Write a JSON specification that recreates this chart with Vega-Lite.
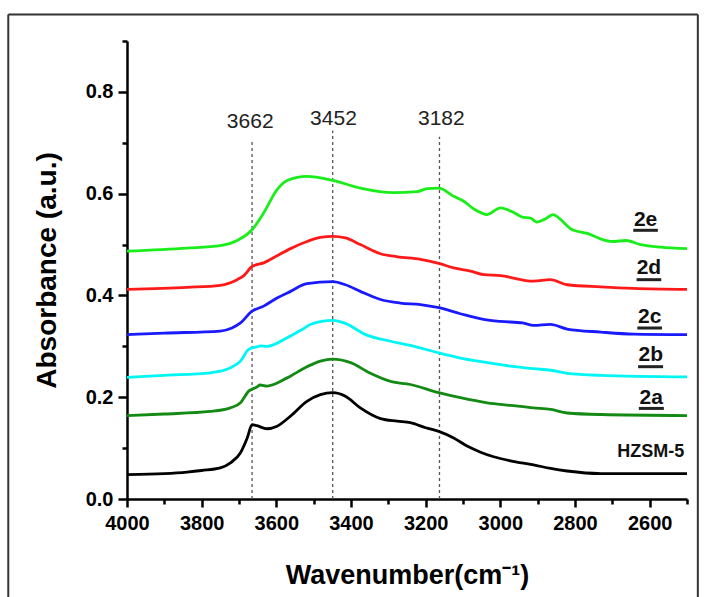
{
  "$schema": "https://vega.github.io/schema/vega-lite/v6.json",
  "width": 560,
  "height": 458,
  "autosize": {"type": "none"},
  "padding": {"left": 127, "top": 41, "right": 21, "bottom": 98},
  "background": "white",
  "config": {
    "view": {"stroke": null},
    "font": "Liberation Sans",
    "axis": {
      "domainColor": "#000", "domainWidth": 2.5, "tickColor": "#000", "tickWidth": 2.5,
      "labelFont": "Liberation Sans", "labelFontWeight": "bold", "labelFontSize": 20, "labelColor": "#000",
      "titleFont": "Liberation Sans", "titleFontWeight": "bold", "titleColor": "#000", "grid": false, "labelFlush": false
    }
  },
  "datasets": {
    "spectra": [
      {"sample":"HZSM-5","wn":4000,"A":0.048},{"sample":"HZSM-5","wn":3900,"A":0.050},{"sample":"HZSM-5","wn":3839,"A":0.053},{"sample":"HZSM-5","wn":3800,"A":0.056},{"sample":"HZSM-5","wn":3750,"A":0.061},{"sample":"HZSM-5","wn":3723,"A":0.071},{"sample":"HZSM-5","wn":3696,"A":0.091},{"sample":"HZSM-5","wn":3678,"A":0.120},{"sample":"HZSM-5","wn":3665,"A":0.146},{"sample":"HZSM-5","wn":3652,"A":0.144},{"sample":"HZSM-5","wn":3625,"A":0.138},{"sample":"HZSM-5","wn":3598,"A":0.143},{"sample":"HZSM-5","wn":3562,"A":0.163},{"sample":"HZSM-5","wn":3518,"A":0.192},{"sample":"HZSM-5","wn":3482,"A":0.205},{"sample":"HZSM-5","wn":3449,"A":0.209},{"sample":"HZSM-5","wn":3415,"A":0.202},{"sample":"HZSM-5","wn":3375,"A":0.179},{"sample":"HZSM-5","wn":3321,"A":0.158},{"sample":"HZSM-5","wn":3276,"A":0.153},{"sample":"HZSM-5","wn":3241,"A":0.150},{"sample":"HZSM-5","wn":3200,"A":0.140},{"sample":"HZSM-5","wn":3165,"A":0.133},{"sample":"HZSM-5","wn":3125,"A":0.120},{"sample":"HZSM-5","wn":3089,"A":0.104},{"sample":"HZSM-5","wn":3053,"A":0.092},{"sample":"HZSM-5","wn":3018,"A":0.083},{"sample":"HZSM-5","wn":2973,"A":0.075},{"sample":"HZSM-5","wn":2911,"A":0.067},{"sample":"HZSM-5","wn":2865,"A":0.060},{"sample":"HZSM-5","wn":2821,"A":0.055},{"sample":"HZSM-5","wn":2731,"A":0.050},{"sample":"HZSM-5","wn":2643,"A":0.050},{"sample":"HZSM-5","wn":2500,"A":0.050},
      {"sample":"2a","wn":4000,"A":0.164},{"sample":"2a","wn":3900,"A":0.167},{"sample":"2a","wn":3777,"A":0.172},{"sample":"2a","wn":3723,"A":0.179},{"sample":"2a","wn":3696,"A":0.189},{"sample":"2a","wn":3674,"A":0.212},{"sample":"2a","wn":3652,"A":0.220},{"sample":"2a","wn":3643,"A":0.224},{"sample":"2a","wn":3625,"A":0.222},{"sample":"2a","wn":3571,"A":0.238},{"sample":"2a","wn":3518,"A":0.260},{"sample":"2a","wn":3482,"A":0.271},{"sample":"2a","wn":3449,"A":0.275},{"sample":"2a","wn":3401,"A":0.268},{"sample":"2a","wn":3348,"A":0.247},{"sample":"2a","wn":3294,"A":0.231},{"sample":"2a","wn":3241,"A":0.225},{"sample":"2a","wn":3165,"A":0.209},{"sample":"2a","wn":3107,"A":0.199},{"sample":"2a","wn":3035,"A":0.189},{"sample":"2a","wn":2973,"A":0.184},{"sample":"2a","wn":2911,"A":0.179},{"sample":"2a","wn":2865,"A":0.176},{"sample":"2a","wn":2821,"A":0.169},{"sample":"2a","wn":2731,"A":0.166},{"sample":"2a","wn":2500,"A":0.164},
      {"sample":"2b","wn":4000,"A":0.239},{"sample":"2b","wn":3900,"A":0.243},{"sample":"2b","wn":3777,"A":0.248},{"sample":"2b","wn":3723,"A":0.258},{"sample":"2b","wn":3696,"A":0.271},{"sample":"2b","wn":3674,"A":0.294},{"sample":"2b","wn":3652,"A":0.299},{"sample":"2b","wn":3643,"A":0.301},{"sample":"2b","wn":3625,"A":0.300},{"sample":"2b","wn":3571,"A":0.317},{"sample":"2b","wn":3531,"A":0.333},{"sample":"2b","wn":3509,"A":0.343},{"sample":"2b","wn":3449,"A":0.351},{"sample":"2b","wn":3415,"A":0.345},{"sample":"2b","wn":3361,"A":0.323},{"sample":"2b","wn":3294,"A":0.310},{"sample":"2b","wn":3241,"A":0.302},{"sample":"2b","wn":3165,"A":0.287},{"sample":"2b","wn":3107,"A":0.277},{"sample":"2b","wn":3035,"A":0.268},{"sample":"2b","wn":2973,"A":0.261},{"sample":"2b","wn":2910,"A":0.256},{"sample":"2b","wn":2865,"A":0.253},{"sample":"2b","wn":2821,"A":0.247},{"sample":"2b","wn":2731,"A":0.243},{"sample":"2b","wn":2500,"A":0.240},
      {"sample":"2c","wn":4000,"A":0.323},{"sample":"2c","wn":3900,"A":0.326},{"sample":"2c","wn":3750,"A":0.330},{"sample":"2c","wn":3719,"A":0.336},{"sample":"2c","wn":3696,"A":0.346},{"sample":"2c","wn":3665,"A":0.369},{"sample":"2c","wn":3634,"A":0.379},{"sample":"2c","wn":3598,"A":0.395},{"sample":"2c","wn":3562,"A":0.408},{"sample":"2c","wn":3518,"A":0.423},{"sample":"2c","wn":3449,"A":0.427},{"sample":"2c","wn":3415,"A":0.421},{"sample":"2c","wn":3375,"A":0.408},{"sample":"2c","wn":3321,"A":0.392},{"sample":"2c","wn":3268,"A":0.385},{"sample":"2c","wn":3214,"A":0.382},{"sample":"2c","wn":3165,"A":0.376},{"sample":"2c","wn":3107,"A":0.364},{"sample":"2c","wn":3045,"A":0.353},{"sample":"2c","wn":3000,"A":0.349},{"sample":"2c","wn":2940,"A":0.346},{"sample":"2c","wn":2911,"A":0.341},{"sample":"2c","wn":2866,"A":0.343},{"sample":"2c","wn":2821,"A":0.334},{"sample":"2c","wn":2731,"A":0.328},{"sample":"2c","wn":2643,"A":0.324},{"sample":"2c","wn":2500,"A":0.323},
      {"sample":"2d","wn":4000,"A":0.412},{"sample":"2d","wn":3839,"A":0.416},{"sample":"2d","wn":3750,"A":0.420},{"sample":"2d","wn":3705,"A":0.431},{"sample":"2d","wn":3687,"A":0.439},{"sample":"2d","wn":3665,"A":0.457},{"sample":"2d","wn":3634,"A":0.464},{"sample":"2d","wn":3598,"A":0.478},{"sample":"2d","wn":3562,"A":0.492},{"sample":"2d","wn":3518,"A":0.506},{"sample":"2d","wn":3482,"A":0.514},{"sample":"2d","wn":3449,"A":0.516},{"sample":"2d","wn":3415,"A":0.513},{"sample":"2d","wn":3375,"A":0.500},{"sample":"2d","wn":3321,"A":0.482},{"sample":"2d","wn":3276,"A":0.476},{"sample":"2d","wn":3214,"A":0.471},{"sample":"2d","wn":3165,"A":0.463},{"sample":"2d","wn":3125,"A":0.454},{"sample":"2d","wn":3080,"A":0.448},{"sample":"2d","wn":3045,"A":0.441},{"sample":"2d","wn":3000,"A":0.439},{"sample":"2d","wn":2911,"A":0.428},{"sample":"2d","wn":2866,"A":0.431},{"sample":"2d","wn":2821,"A":0.421},{"sample":"2d","wn":2731,"A":0.417},{"sample":"2d","wn":2643,"A":0.414},{"sample":"2d","wn":2500,"A":0.412},
      {"sample":"2e","wn":4000,"A":0.487},{"sample":"2e","wn":3839,"A":0.493},{"sample":"2e","wn":3750,"A":0.498},{"sample":"2e","wn":3705,"A":0.508},{"sample":"2e","wn":3665,"A":0.529},{"sample":"2e","wn":3634,"A":0.562},{"sample":"2e","wn":3598,"A":0.608},{"sample":"2e","wn":3571,"A":0.626},{"sample":"2e","wn":3518,"A":0.634},{"sample":"2e","wn":3449,"A":0.626},{"sample":"2e","wn":3375,"A":0.611},{"sample":"2e","wn":3285,"A":0.602},{"sample":"2e","wn":3223,"A":0.604},{"sample":"2e","wn":3196,"A":0.610},{"sample":"2e","wn":3165,"A":0.611},{"sample":"2e","wn":3125,"A":0.595},{"sample":"2e","wn":3098,"A":0.585},{"sample":"2e","wn":3071,"A":0.570},{"sample":"2e","wn":3035,"A":0.559},{"sample":"2e","wn":3000,"A":0.572},{"sample":"2e","wn":2964,"A":0.563},{"sample":"2e","wn":2941,"A":0.554},{"sample":"2e","wn":2919,"A":0.552},{"sample":"2e","wn":2903,"A":0.544},{"sample":"2e","wn":2883,"A":0.549},{"sample":"2e","wn":2858,"A":0.559},{"sample":"2e","wn":2843,"A":0.552},{"sample":"2e","wn":2807,"A":0.529},{"sample":"2e","wn":2767,"A":0.522},{"sample":"2e","wn":2731,"A":0.511},{"sample":"2e","wn":2700,"A":0.506},{"sample":"2e","wn":2664,"A":0.508},{"sample":"2e","wn":2624,"A":0.500},{"sample":"2e","wn":2571,"A":0.495},{"sample":"2e","wn":2500,"A":0.492}
    ],
    "peaks": [
      {"peak":"3662","wn":3665,"base":0,"top":0.702,"lx":3670,"ly":0.740},
      {"peak":"3452","wn":3449,"base":0,"top":0.724,"lx":3447,"ly":0.746},
      {"peak":"3182","wn":3163,"base":0,"top":0.712,"lx":3158,"ly":0.746}
    ],
    "labels": [
      {"sample":"2e","wn":2611,"A":0.548,"u1":2644,"u2":2578,"uA":0.528},
      {"sample":"2d","wn":2602,"A":0.453,"u1":2635,"u2":2569,"uA":0.431},
      {"sample":"2c","wn":2600,"A":0.3585,"u1":2633,"u2":2567,"uA":0.336},
      {"sample":"2b","wn":2597,"A":0.282,"u1":2631,"u2":2564,"uA":0.26},
      {"sample":"2a","wn":2596,"A":0.199,"u1":2629,"u2":2562,"uA":0.178}
    ],
    "frame": [
      {"side":"top","x1":4318,"x2":2471,"y1":0.952,"y2":0.952},
      {"side":"left","x1":4318,"x2":4318,"y1":0.952,"y2":-0.2},
      {"side":"right","x1":2471,"x2":2471,"y1":0.952,"y2":-0.2}
    ]
  },
  "layer": [
    {
      "data": {"name": "frame"},
      "mark": {"type": "rule", "color": "#333", "strokeWidth": 2},
      "encoding": {
        "x": {"field": "x1", "type": "quantitative", "scale": {"domain": [2500, 4000], "reverse": true, "nice": false, "zero": false}, "axis": null},
        "x2": {"field": "x2"},
        "y": {"field": "y1", "type": "quantitative", "scale": {"domain": [0, 0.9], "nice": false}, "axis": null},
        "y2": {"field": "y2"}
      }
    },
    {
      "data": {"name": "peaks"},
      "mark": {"type": "rule", "color": "#555", "strokeWidth": 1.3, "strokeDash": [3, 3]},
      "encoding": {
        "x": {"field": "wn", "type": "quantitative", "scale": {"domain": [2500, 4000], "reverse": true, "nice": false, "zero": false},
              "axis": {"orient": "bottom", "values": [3900, 3700, 3500, 3300, 3100, 2900, 2700, 2500], "labels": false, "tickSize": 5, "domain": false, "title": null}},
        "y": {"field": "base", "type": "quantitative", "scale": {"domain": [0, 0.9], "nice": false},
              "axis": {"orient": "left", "values": [0.1, 0.3, 0.5, 0.7, 0.9], "labels": false, "tickSize": 5, "domain": false, "title": null}},
        "y2": {"field": "top"}
      }
    },
    {
      "data": {"name": "spectra"},
      "mark": {"type": "line", "strokeWidth": 2.8, "interpolate": "monotone"},
      "encoding": {
        "x": {"field": "wn", "type": "quantitative", "scale": {"domain": [2500, 4000], "reverse": true, "nice": false, "zero": false},
              "axis": {"orient": "bottom", "values": [4000, 3800, 3600, 3400, 3200, 3000, 2800, 2600], "format": "d", "tickSize": 8, "labelPadding": 6, "labelOverlap": false,
                       "title": "Wavenumber(cm⁻¹)", "titleFontSize": 27, "titlePadding": 29}},
        "y": {"field": "A", "type": "quantitative", "scale": {"domain": [0, 0.9], "nice": false},
              "axis": {"orient": "left", "values": [0, 0.2, 0.4, 0.6, 0.8], "format": ".1f", "tickSize": 9, "labelPadding": 5,
                       "title": "Absorbance (a.u.)", "titleFontSize": 28, "titlePadding": 24}},
        "color": {"field": "sample", "type": "nominal", "legend": null,
                  "scale": {"domain": ["HZSM-5", "2a", "2b", "2c", "2d", "2e"], "range": ["#000000", "#138a13", "#00f5f5", "#1a1aff", "#ff1a1a", "#1aee1a"]}}
      }
    },
    {
      "data": {"name": "peaks"},
      "mark": {"type": "text", "font": "Liberation Sans", "fontSize": 21, "color": "#222", "baseline": "middle", "align": "center"},
      "encoding": {
        "x": {"field": "lx", "type": "quantitative", "scale": {"domain": [2500, 4000], "reverse": true, "nice": false, "zero": false}, "axis": null},
        "y": {"field": "ly", "type": "quantitative", "scale": {"domain": [0, 0.9], "nice": false}, "axis": null},
        "text": {"field": "peak"}
      }
    },
    {
      "data": {"name": "labels"},
      "mark": {"type": "text", "font": "Liberation Sans", "fontWeight": "bold", "fontSize": 21, "color": "#111", "baseline": "middle", "align": "center"},
      "encoding": {
        "x": {"field": "wn", "type": "quantitative", "scale": {"domain": [2500, 4000], "reverse": true, "nice": false, "zero": false}, "axis": null},
        "y": {"field": "A", "type": "quantitative", "scale": {"domain": [0, 0.9], "nice": false}, "axis": null},
        "text": {"field": "sample"}
      }
    },
    {
      "data": {"values": [{"sample": "HZSM-5", "wn": 2597, "A": 0.092}]},
      "mark": {"type": "text", "font": "Liberation Sans", "fontWeight": "bold", "fontSize": 18, "color": "#111", "baseline": "middle", "align": "center"},
      "encoding": {
        "x": {"field": "wn", "type": "quantitative", "scale": {"domain": [2500, 4000], "reverse": true, "nice": false, "zero": false}, "axis": null},
        "y": {"field": "A", "type": "quantitative", "scale": {"domain": [0, 0.9], "nice": false}, "axis": null},
        "text": {"field": "sample"}
      }
    },
    {
      "data": {"name": "labels"},
      "mark": {"type": "rule", "color": "#222", "strokeWidth": 3},
      "encoding": {
        "x": {"field": "u1", "type": "quantitative", "scale": {"domain": [2500, 4000], "reverse": true, "nice": false, "zero": false}, "axis": null},
        "x2": {"field": "u2"},
        "y": {"field": "uA", "type": "quantitative", "scale": {"domain": [0, 0.9], "nice": false}, "axis": null}
      }
    }
  ],
  "resolve": {"axis": {"x": "independent", "y": "independent"}}
}
